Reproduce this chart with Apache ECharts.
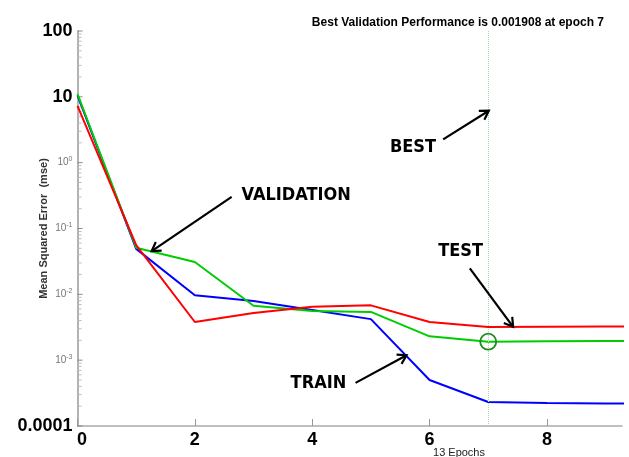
<!DOCTYPE html>
<html>
<head>
<meta charset="utf-8">
<script src="https://cdn.jsdelivr.net/npm/echarts@6/dist/echarts.min.js"></script>
<style>html,body{margin:0;padding:0;background:#fff}#c{width:629px;height:457px}</style>
</head>
<body>
<div id="c"></div>
<script>
// ---- data ----
var epochs     = [0, 1, 2, 3, 4, 5, 6, 7, 8, 9, 10];
var train      = [10.5, 0.049, 0.0097, 0.0079, 0.0058, 0.0042, 0.0005, 0.000232, 0.000224, 0.00022, 0.000218];
var validation = [11.0, 0.051, 0.031, 0.0067, 0.0056, 0.0054, 0.0023, 0.001908, 0.00194, 0.00196, 0.00197];
var test       = [7.3, 0.056, 0.0038, 0.0052, 0.0065, 0.0068, 0.0038, 0.0032, 0.00323, 0.00324, 0.00324];
var bestEpoch = 7;
var bestValue = 0.001908;
var xTickValues = [0, 2, 4, 6, 8];
var yMajorTicks = [0.0001, 0.001, 0.01, 0.1, 1, 10, 100];
var yMinorTicks = [];
for (var d = -4; d < 2; d++) { for (var m = 2; m <= 9; m++) { yMinorTicks.push(+(m * Math.pow(10, d)).toPrecision(3)); } }
var titleText = 'Best Validation Performance is 0.001908 at epoch 7';
var xName = '13 Epochs';
var yName = 'Mean Squared Error  (mse)';
// annotation anchors in data coordinates
var annotations = [
  {text: 'VALIDATION', at: [2.797, 0.316], tail: [2.627, 0.303], tip: [1.264, 0.0454]},
  {text: 'BEST', at: [5.324, 1.696], tail: [6.232, 2.26], tip: [7.01, 6.15]},
  {text: 'TEST', at: [6.147, 0.0457], tail: [6.687, 0.0248], tip: [7.424, 0.00321]},
  {text: 'TRAIN', at: [3.632, 0.000447], tail: [4.739, 0.000452], tip: [5.608, 0.00119]}
];

function pair(xs, ys) { return xs.map(function (x, i) { return [x, ys[i]]; }); }

var chart = echarts.init(document.getElementById('c'), null, {renderer: 'canvas'});

function yLabel(v) {
  var e = Math.round(Math.log(v) / Math.LN10);
  if (e === 2) return '{big|100}';
  if (e === 1) return '{big|10}';
  if (e === -4) return '{big|0.0001}';
  return '{n|10}{s|' + e + '}';
}

var tickSeries = function (vals, len, color) {
  return {
    type: 'custom', silent: true, z: 1,
    data: vals.map(function (v) { return [0, v]; }),
    encode: {x: 0, y: 1},
    renderItem: function (params, api) {
      var p = api.coord([0, api.value(1)]);
      return {type: 'line', shape: {x1: p[0], y1: p[1], x2: p[0] + len, y2: p[1]},
              style: {stroke: color, lineWidth: 1}};
    }
  };
};

var bigFont = {fontFamily: 'Liberation Sans', fontSize: 18, fontWeight: 'bold', color: '#000'};

chart.setOption({
  animation: false,
  backgroundColor: '#fff',
  title: {
    text: titleText, right: 20, top: 12,
    textStyle: {fontFamily: 'Liberation Sans', fontSize: 12, fontWeight: 'bold', color: '#000'}
  },
  grid: {left: 77.5, top: 31, width: 544.5, height: 395, containLabel: false, outerBoundsMode: 'none'},
  xAxis: {
    type: 'value', min: 0, max: 9.28,
    axisLine: {lineStyle: {color: '#aaa', width: 1.5}},
    axisTick: {show: true, inside: true, length: 7, customValues: xTickValues, lineStyle: {color: '#999'}},
    axisLabel: {
      customValues: xTickValues, margin: 5,
      formatter: function (v) { return v === 0 ? '{z|0}' : '{b|' + v + '}'; },
      rich: {
        b: bigFont,
        z: {fontFamily: 'Liberation Sans', fontSize: 18, fontWeight: 'bold', color: '#000', padding: [0, 0, 0, 9]}
      }
    },
    splitLine: {show: false}
  },
  yAxis: {
    type: 'log', logBase: 10, min: 0.0001, max: 100,
    name: yName, nameLocation: 'middle', nameGap: 28, nameMoveOverlap: false,
    nameTextStyle: {fontFamily: 'Liberation Sans', fontSize: 11, fontWeight: 'bold', color: '#333'},
    axisLine: {show: true, lineStyle: {color: '#999', width: 1.5}},
    axisTick: {show: false},
    splitLine: {show: false},
    axisLabel: {
      margin: 5,
      formatter: yLabel,
      rich: {
        big: bigFont,
        n: {fontFamily: 'Liberation Sans', fontSize: 10, color: '#777', lineHeight: 14},
        s: {fontFamily: 'Liberation Sans', fontSize: 7, color: '#777', verticalAlign: 'top', lineHeight: 8}
      }
    }
  },
  series: [
    tickSeries(yMinorTicks, 4, '#bbb'),
    tickSeries(yMajorTicks, 5, '#888'),
    {name: 'Train', type: 'line', data: pair(epochs, train), showSymbol: false, clip: true,
     lineStyle: {color: '#0000ff', width: 2}, itemStyle: {color: '#0000ff'}, z: 3},
    {name: 'Validation', type: 'line', data: pair(epochs, validation), showSymbol: false, clip: true,
     lineStyle: {color: '#00cc00', width: 2}, itemStyle: {color: '#00cc00'}, z: 4,
     markLine: {
       silent: true, symbol: 'none', label: {show: false},
       lineStyle: {type: 'dotted', color: '#a8d8a8', width: 1},
       data: [{yAxis: bestValue}, {xAxis: bestEpoch}]
     }},
    {name: 'Test', type: 'line', data: pair(epochs, test), showSymbol: false, clip: true,
     lineStyle: {color: '#ff0000', width: 2}, itemStyle: {color: '#ff0000'}, z: 5},
    {name: 'Best', type: 'scatter', data: [[bestEpoch, bestValue]], symbol: 'circle', symbolSize: 16,
     itemStyle: {color: 'rgba(0,0,0,0)', borderColor: '#1e8c1e', borderWidth: 1.8, opacity: 1}, z: 6}
  ]
});

// annotations (text + open arrow) placed from data coordinates
var g = [];
annotations.forEach(function (a) {
  var t = chart.convertToPixel({gridIndex: 0}, a.at);
  var p0 = chart.convertToPixel({gridIndex: 0}, a.tail);
  var p1 = chart.convertToPixel({gridIndex: 0}, a.tip);
  g.push({type: 'text', x: t[0], y: t[1], z: 10,
          style: {text: a.text, fontFamily: 'DejaVu Sans Condensed', fontWeight: 'bold', fontSize: 18,
                  fill: '#000', align: 'left', verticalAlign: 'middle'}});
  var ang = Math.atan2(p0[1] - p1[1], p0[0] - p1[0]);
  var L = 10, h = 0.55;
  var w1 = [p1[0] + L * Math.cos(ang + h), p1[1] + L * Math.sin(ang + h)];
  var w2 = [p1[0] + L * Math.cos(ang - h), p1[1] + L * Math.sin(ang - h)];
  g.push({type: 'line', z: 10, shape: {x1: p0[0], y1: p0[1], x2: p1[0], y2: p1[1]},
          style: {stroke: '#000', lineWidth: 2.2}});
  g.push({type: 'polyline', z: 10, shape: {points: [w1, p1, w2]},
          style: {stroke: '#000', lineWidth: 2.2, fill: null}});
});
g.push({type: 'text', x: 459, y: 447, z: 10,
        style: {text: xName, fontFamily: 'Liberation Sans', fontSize: 11, fill: '#222', align: 'center', verticalAlign: 'top'}});
chart.setOption({graphic: g});
</script>
</body>
</html>
